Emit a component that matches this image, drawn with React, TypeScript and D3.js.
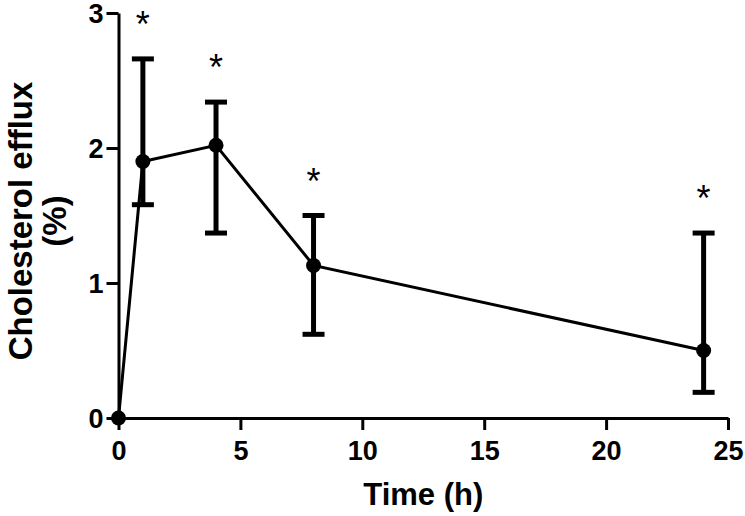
import React, { useRef, useEffect } from "react";
import * as d3 from "d3";

const times = [0, 1, 4, 8, 24];
const efflux = [0, 1.9, 2.02, 1.13, 0.5];
const upper = [0, 2.66, 2.34, 1.5, 1.37];
const lower = [0, 1.58, 1.37, 0.62, 0.19];
const significant = [false, true, true, true, true];
const xTicks = [0, 5, 10, 15, 20, 25];
const yTicks = [0, 1, 2, 3];

const W = 745;
const H = 516;
const FONT = "'Liberation Sans', Arial, sans-serif";

const App = () => {
  const svgRef = useRef<SVGSVGElement | null>(null);

  useEffect(() => {
    const svg = d3.select(svgRef.current);
    svg.selectAll("*").remove();

    const margin = { top: 13, right: 17, bottom: 98, left: 118.5 };
    const x = d3.scaleLinear().domain([0, 25]).range([margin.left, W - margin.right]);
    const y = d3.scaleLinear().domain([0, 3]).range([H - margin.bottom, margin.top]);

    const rows = times.map((t, i) => ({
      t,
      v: efflux[i],
      hi: upper[i],
      lo: lower[i],
      sig: significant[i],
    }));

    // axes
    const xAxis = svg
      .append("g")
      .attr("transform", `translate(0,${y(0)})`)
      .call(
        d3.axisBottom(x).tickValues(xTicks).tickFormat(d3.format("d")).tickSize(12).tickPadding(11).tickSizeOuter(0)
      );
    const yAxis = svg
      .append("g")
      .attr("transform", `translate(${x(0)},0)`)
      .call(
        d3.axisLeft(y).tickValues(yTicks).tickFormat(d3.format("d")).tickSize(12).tickPadding(3).tickSizeOuter(0)
      );

    [xAxis, yAxis].forEach((g) => {
      g.select(".domain").attr("stroke", "#000").attr("stroke-width", 3);
      g.selectAll(".tick line").attr("stroke", "#000").attr("stroke-width", 3);
      g.selectAll(".tick text")
        .attr("fill", "#000")
        .style("font-family", FONT)
        .style("font-weight", "bold")
        .style("font-size", "27px");
    });
    yAxis.selectAll(".tick text").attr("dy", "0.36em");

    // connecting line
    const line = d3
      .line<{ t: number; v: number }>()
      .x((d) => x(d.t))
      .y((d) => y(d.v));
    svg
      .append("path")
      .datum(rows)
      .attr("d", line)
      .attr("fill", "none")
      .attr("stroke", "#000")
      .attr("stroke-width", 3);

    // error bars
    const bars = svg.append("g").selectAll("g").data(rows.filter((d) => d.hi > d.lo)).enter().append("g");
    bars
      .append("line")
      .attr("x1", (d) => x(d.t))
      .attr("x2", (d) => x(d.t))
      .attr("y1", (d) => y(d.hi))
      .attr("y2", (d) => y(d.lo))
      .attr("stroke", "#000")
      .attr("stroke-width", 5);
    ["hi", "lo"].forEach((k) => {
      bars
        .append("line")
        .attr("x1", (d) => x(d.t) - 11)
        .attr("x2", (d) => x(d.t) + 11)
        .attr("y1", (d: any) => y(d[k]))
        .attr("y2", (d: any) => y(d[k]))
        .attr("stroke", "#000")
        .attr("stroke-width", 5);
    });

    // points
    svg
      .append("g")
      .selectAll("circle")
      .data(rows)
      .enter()
      .append("circle")
      .attr("cx", (d) => x(d.t))
      .attr("cy", (d) => y(d.v))
      .attr("r", 7.5)
      .attr("fill", "#000");

    // significance stars
    svg
      .append("g")
      .selectAll("text")
      .data(rows.filter((d) => d.sig))
      .enter()
      .append("text")
      .attr("x", (d) => x(d.t))
      .attr("y", (d) => y(d.hi) - 22)
      .attr("text-anchor", "middle")
      .style("font-family", FONT)
      .style("font-size", "36px")
      .attr("fill", "#000")
      .text("*");

    // axis titles
    svg
      .append("text")
      .attr("x", (x(0) + x(25)) / 2)
      .attr("y", 505)
      .attr("text-anchor", "middle")
      .style("font-family", FONT)
      .style("font-weight", "bold")
      .style("font-size", "31px")
      .text("Time (h)");

    const yt = svg
      .append("text")
      .attr("transform", `translate(0,221) rotate(-90)`)
      .attr("text-anchor", "middle")
      .style("font-family", FONT)
      .style("font-weight", "bold")
      .style("font-size", "33px");
    yt.append("tspan").attr("x", 0).attr("y", 32).text("Cholesterol efflux");
    yt.append("tspan").attr("x", 0).attr("y", 66).text("(%)");
  }, []);

  return (
    <svg
      ref={svgRef}
      width={W}
      height={H}
      style={{ position: "absolute", left: 0, top: 0, background: "#fff" }}
    />
  );
};

export default App;
